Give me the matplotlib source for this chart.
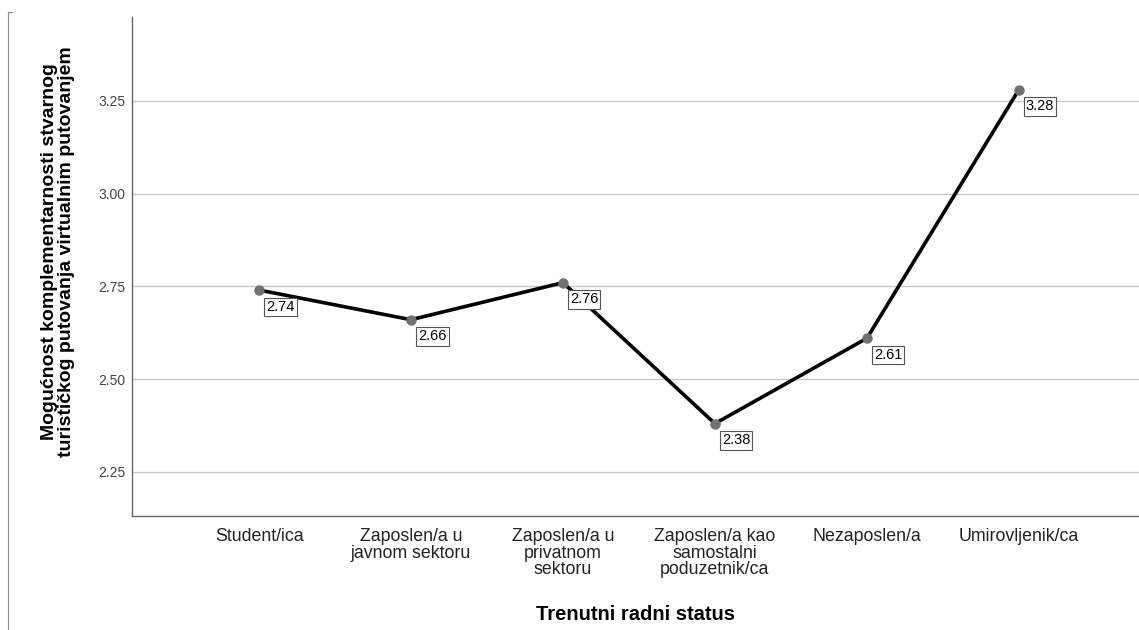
import matplotlib
matplotlib.use('AGG')
import matplotlib.pyplot as plt
from matplotlib.lines import Line2D

plt.rcParams['font.family'] = ['Liberation Sans', 'DejaVu Sans']

#%% data
categories = ['Student/ica', 'Zaposlen/a u\njavnom sektoru', 'Zaposlen/a u\nprivatnom\nsektoru',
              'Zaposlen/a kao\nsamostalni\npoduzetnik/ca', 'Nezaposlen/a', 'Umirovljenik/ca']
means = [2.74, 2.66, 2.76, 2.38, 2.61, 3.28]
yticks = [2.25, 2.50, 2.75, 3.00, 3.25]

#%% plot
fig = plt.figure(figsize=(11.39, 6.30), dpi=100)
ax = fig.add_axes([0.1159, 0.181, 0.884, 0.792])

xpos = list(range(len(categories)))
ax.plot(xpos, means, color='black', linewidth=2.6, zorder=3)
ax.plot(xpos, means, linestyle='none', marker='o', markersize=6.5,
        color='#707070', zorder=4)

for x, v in zip(xpos, means):
    ax.annotate('%.2f' % v, xy=(x, v), xytext=(5, -7), textcoords='offset points',
                ha='left', va='top', fontsize=10.5, color='black', zorder=5,
                bbox=dict(boxstyle='square,pad=0.15', fc='white', ec='#555555', lw=0.8))

ax.set_xlim(-0.836, 5.79)
ax.set_ylim(2.131, 3.476)
ax.set_xticks(xpos)
ax.set_xticklabels(categories, fontsize=12.8, color='#222222', linespacing=0.95)
ax.set_yticks(yticks)
ax.set_yticklabels(['%.2f' % t for t in yticks], fontsize=10, color='#444444')
ax.tick_params(length=0, pad=5)
ax.tick_params(axis='x', pad=9)
ax.grid(axis='y', color='#c8c8c8', linewidth=1)
ax.set_axisbelow(True)
for s in ['top', 'right']:
    ax.spines[s].set_visible(False)
for s in ['left', 'bottom']:
    ax.spines[s].set_color('#666666')
    ax.spines[s].set_linewidth(1)

ax.set_ylabel('Mogućnost komplementarnosti stvarnog\nturističkog putovanja virtualnim putovanjem',
              fontsize=14, fontweight='bold', linespacing=1.0)
ax.yaxis.set_label_coords(-0.057, 0.53)
ax.set_xlabel('Trenutni radni status', fontsize=14.5, fontweight='bold', labelpad=19)

# outer frame line on the left
fig.add_artist(Line2D([8/1139, 8/1139], [0, 1-12/630], color='#888888', lw=0.8))
fig.add_artist(Line2D([8/1139, 12/1139], [1-12/630, 1-12/630], color='#888888', lw=0.8))

fig.savefig('out.png', dpi=100)
